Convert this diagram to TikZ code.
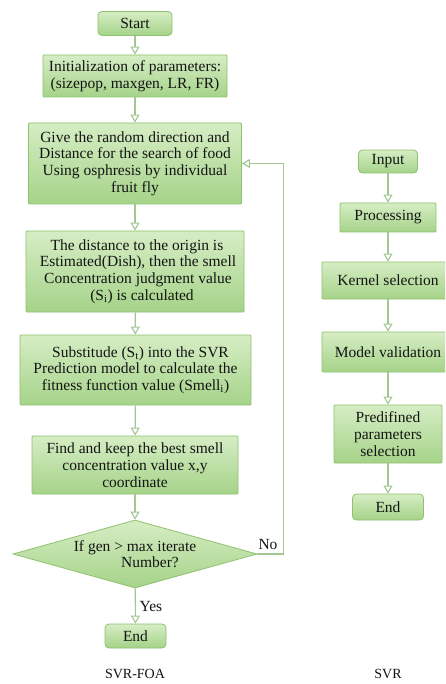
\documentclass[tikz,border=0pt]{standalone}
\usepackage{fontspec}
\setmainfont{Liberation Serif}
\usetikzlibrary{arrows.meta,shapes.geometric}
\definecolor{boxtop}{HTML}{D6EDC4}
\definecolor{boxbot}{HTML}{A5D389}
\definecolor{boxline}{HTML}{8EC26E}
\definecolor{arr}{HTML}{A3C793}
\definecolor{txt}{HTML}{141414}
\begin{document}
\begin{tikzpicture}[x=1pt,y=-1pt,
  base/.style={draw=boxline, line width=0.8pt, top color=boxtop, bottom color=boxbot,
    text=txt, font=\fontsize{15.5}{16.7}\selectfont, align=center, inner sep=0pt},
  term/.style={base, rounded corners=4pt},
  proc/.style={base, rounded corners=1pt},
  dec/.style={base, diamond, aspect=3.6},
  flow/.style={draw=arr, line width=1.1pt, -{Triangle[open, length=8pt, width=9pt]}},
  lbl/.style={text=txt, font=\fontsize{15.5}{16.7}\selectfont},
  captxt/.style={text=txt, font=\fontsize{14}{16}\selectfont}
]
\path[use as bounding box] (0,0) rectangle (445,684);
\fill[white] (0,0) rectangle (445,684);
\clip (0,0) rectangle (445,684);

% left column: SVR-FOA
\node[term, minimum width=74pt, minimum height=24pt] (start) at (135,23.5) {Start};
\node[proc, minimum width=184pt, minimum height=42pt] (init) at (135,76)
  {Initialization of parameters:\\(sizepop, maxgen, LR, FR)};
\node[proc, minimum width=213pt, minimum height=81pt] (give) at (135,163.5)
  {Give the random direction and\\Distance for the search of food\\Using osphresis by individual\\fruit fly};
\node[proc, minimum width=218pt, minimum height=81pt] (dist) at (135,271.5)
  {\hspace*{4pt}The distance to the origin is\\\hspace*{6pt}Estimated(Dish), then the smell\\\hspace*{6pt}Concentration judgment value\\\hspace*{14pt}(S\textsubscript{i}) is calculated};
\node[proc, minimum width=231pt, minimum height=70pt] (subst) at (135.5,370)
  {\hspace*{10pt}Substitude (S\textsubscript{t}) into the SVR\\Prediction model to calculate the\\fitness function value (Smell\textsubscript{i})};
\node[proc, minimum width=206pt, minimum height=58pt] (find) at (135,465)
  {Find and keep the best smell\\concentration value x,y\\coordinate};
\node[dec, minimum width=244pt, minimum height=68pt] (dec) at (135,554)
  {If gen > max iterate\\\hspace*{30pt}Number?};
\node[term, minimum width=61pt, minimum height=24pt] (end) at (135.5,636) {End};

\draw[flow] (start) -- (init);
\draw[flow] (init) -- (give);
\draw[flow] (give) -- (dist);
\draw[flow] (dist) -- (subst);
\draw[flow] (subst) -- (find);
\draw[flow] (find) -- (dec);
\draw[flow] (dec) -- (end);
\draw[flow] (dec.east) -- ++(26,0) |- (give.east);

\node[lbl] (yes) at (151,606) {Yes};
\node[lbl] (no) at (268,544) {No};
\node[captxt] (capl) at (135,674) {SVR-FOA};

% right column: SVR
\node[term, minimum width=59pt, minimum height=23pt] (input) at (388,161.5) {Input};
\node[proc, minimum width=96pt, minimum height=29pt] (proc) at (388,217.5) {Processing};
\node[proc, minimum width=132pt, minimum height=37pt] (kern) at (388,280.5) {Kernel selection};
\node[proc, minimum width=132pt, minimum height=40pt] (model) at (388,352) {Model validation};
\node[proc, minimum width=108pt, minimum height=58pt] (pred) at (388,434)
  {Predifined\\parameters\\selection};
\node[term, minimum width=71pt, minimum height=26pt] (end2) at (388,507) {End};

\draw[flow] (input) -- (proc);
\draw[flow] (proc) -- (kern);
\draw[flow] (kern) -- (model);
\draw[flow] (model) -- (pred);
\draw[flow] (pred) -- (end2);

\node[captxt] (capr) at (388,674) {SVR};
\end{tikzpicture}
\end{document}
